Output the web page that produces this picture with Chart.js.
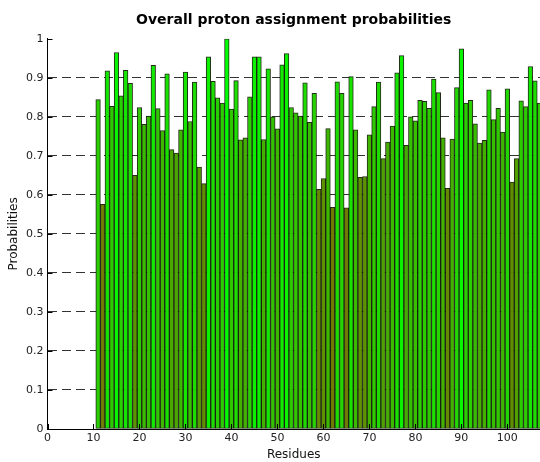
<!DOCTYPE html>
<html>
<head>
<meta charset="utf-8">
<script src="https://cdn.jsdelivr.net/npm/chart.js@4.4.0/dist/chart.umd.min.js"></script>
<style>
  html, body { margin: 0; padding: 0; background: #fff; }
  #wrap { width: 540px; height: 462px; }
</style>
</head>
<body>
<div id="wrap"><canvas id="myChart"></canvas></div>
<script>
// residue numbers and their assignment probability
const residues = [];
for (let r = 11; r <= 107; r++) residues.push(r);

const probabilities = [
  0.844, 0.576, 0.918, 0.827, 0.965, 0.854, 0.919, 0.886, 0.650, 0.824, // 11-20
  0.781, 0.802, 0.932, 0.821, 0.765, 0.910, 0.716, 0.707, 0.767, 0.915, // 21-30
  0.788, 0.889, 0.671, 0.629, 0.954, 0.891, 0.849, 0.835, 1.000, 0.820, // 31-40
  0.893, 0.741, 0.746, 0.851, 0.954, 0.954, 0.742, 0.923, 0.800, 0.769, // 41-50
  0.933, 0.962, 0.824, 0.810, 0.802, 0.887, 0.786, 0.860, 0.614, 0.642, // 51-60
  0.770, 0.568, 0.890, 0.860, 0.567, 0.903, 0.767, 0.645, 0.647, 0.754, // 61-70
  0.826, 0.889, 0.693, 0.735, 0.776, 0.913, 0.957, 0.727, 0.800, 0.790, // 71-80
  0.842, 0.840, 0.822, 0.897, 0.862, 0.746, 0.617, 0.743, 0.875, 0.974, // 81-90
  0.835, 0.842, 0.782, 0.733, 0.740, 0.869, 0.793, 0.822, 0.761, 0.872, // 91-100
  0.633, 0.693, 0.841, 0.826, 0.929, 0.892, 0.835                      // 101-107
];

const xTicks = [0, 10, 20, 30, 40, 50, 60, 70, 80, 90, 100];
const yTicks = [0, 0.1, 0.2, 0.3, 0.4, 0.5, 0.6, 0.7, 0.8, 0.9, 1];

// low probabilities go olive, high ones bright green
function barColor(v) {
  let t = (v - 0.56) / (1 - 0.56);
  t = Math.max(0, Math.min(1, t));
  const r = Math.round(115 * (1 - t));
  const g = Math.round(120 + 135 * t);
  return 'rgb(' + r + ',' + g + ',0)';
}

// little inward tick marks, matlab style
const innerTicks = {
  id: 'innerTicks',
  afterDraw(chart) {
    const { ctx, chartArea, scales } = chart;
    ctx.save();
    ctx.strokeStyle = '#000';
    ctx.lineWidth = 1;
    ctx.beginPath();
    xTicks.forEach(v => {
      const px = Math.round(scales.x.getPixelForValue(v)) + 0.5;
      ctx.moveTo(px, chartArea.bottom);
      ctx.lineTo(px, chartArea.bottom - 5);
    });
    yTicks.forEach(v => {
      const py = Math.round(scales.y.getPixelForValue(v)) + 0.5;
      ctx.moveTo(chartArea.left, py);
      ctx.lineTo(chartArea.left + 5, py);
    });
    ctx.stroke();
    ctx.restore();
  }
};

const ctx = document.getElementById('myChart').getContext('2d');
new Chart(ctx, {
  type: 'bar',
  data: {
    datasets: [{
      data: residues.map((r, i) => ({ x: r, y: probabilities[i] })),
      backgroundColor: probabilities.map(barColor),
      borderColor: 'rgba(10,20,0,0.9)',
      borderWidth: 1,
      borderSkipped: false,
      barPercentage: 1,
      categoryPercentage: 1
    }]
  },
  options: {
    responsive: true,
    maintainAspectRatio: false,
    animation: false,
    layout: { padding: { top: 2, right: 0, bottom: 0, left: 7 } },
    plugins: {
      legend: { display: false },
      tooltip: { enabled: false },
      title: {
        display: true,
        fullSize: false,
        text: 'Overall proton assignment probabilities',
        color: '#000',
        font: { family: 'DejaVu Sans', size: 14, weight: 'bold' },
        padding: { top: 10, bottom: 10 }
      }
    },
    scales: {
      x: {
        type: 'linear',
        offset: false,
        min: 0,
        max: 107.1,
        z: 1,
        afterBuildTicks: s => { s.ticks = xTicks.map(v => ({ value: v })); },
        afterFit: s => { s.height = 33; },
        grid: { display: false, drawTicks: false },
        border: { display: true, color: '#000', width: 1 },
        ticks: {
          color: '#222',
          padding: 3,
          maxRotation: 0,
          font: { family: 'DejaVu Sans', size: 11 },
          callback: v => String(v)
        },
        title: {
          display: true,
          text: 'Residues',
          color: '#111',
          padding: 0,
          font: { family: 'DejaVu Sans', size: 12 }
        }
      },
      y: {
        min: 0,
        max: 1,
        z: 1,
        afterBuildTicks: s => { s.ticks = yTicks.map(v => ({ value: v })); },
        afterFit: s => { s.width = 40.5; },
        grid: {
          drawTicks: false,
          lineWidth: 1,
          color: c => (c.tick && (c.tick.value === 0 || c.tick.value === 1)) ? 'rgba(0,0,0,0)' : 'rgba(0,0,0,0.8)'
        },
        border: { display: true, color: '#000', width: 1, dash: [9, 5] },
        ticks: {
          color: '#222',
          padding: 4,
          font: { family: 'DejaVu Sans', size: 11 },
          callback: v => String(v)
        },
        title: {
          display: true,
          text: 'Probabilities',
          color: '#111',
          padding: 0,
          font: { family: 'DejaVu Sans', size: 12 }
        }
      }
    }
  },
  plugins: [innerTicks]
});
</script>
</body>
</html>
